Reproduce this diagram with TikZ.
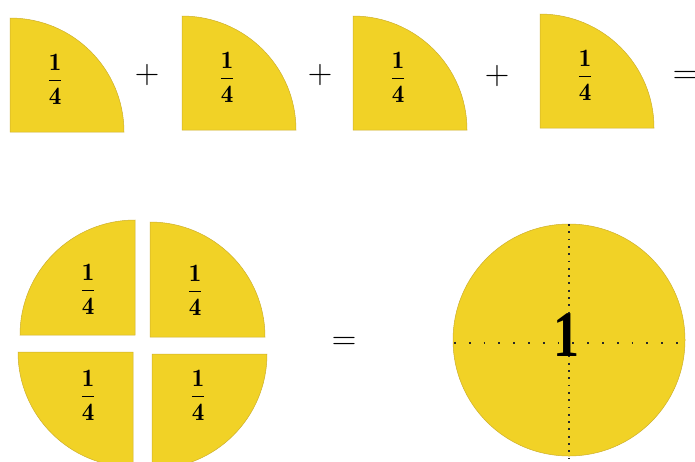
\RequirePackage{fix-cm}
\documentclass[tikz,border=0pt]{standalone}
\usepackage{amsmath}
\usepackage{fontspec}
\newfontfamily\bigonefont{Liberation Serif}
\definecolor{piefill}{RGB}{241,210,38}
\definecolor{pieline}{RGB}{205,175,45}
\definecolor{dotcol}{RGB}{40,40,40}
\tikzset{
  piece/.style={fill=piefill, draw=pieline, line width=0.5pt},
  fraclabel/.style={inner sep=0pt, font=\fontsize{25}{30}\selectfont},
  opsign/.style={inner sep=0pt, font=\fontsize{34}{40}\selectfont},
  hdots/.style={draw=dotcol, line width=1.8pt, dash pattern=on 1.8pt off 13pt},
  vdots/.style={draw=dotcol, line width=1.8pt, dash pattern=on 1.8pt off 5.5pt},
}
\newcommand{\quarterfrac}{$\dfrac{\mathbf{1}}{\mathbf{4}}$}
\begin{document}
\begin{tikzpicture}[x=1pt,y=-1pt]
\useasboundingbox (0,0) rectangle (695,461);
\clip (0,0) rectangle (695,461);
% top row quarter circles
\path[piece] (10,132) -- (10,18) arc[start angle=270,end angle=360,radius=114] -- cycle;
\path[piece] (182,130) -- (182,16) arc[start angle=270,end angle=360,radius=114] -- cycle;
\path[piece] (353,130) -- (353,16) arc[start angle=270,end angle=360,radius=114] -- cycle;
\path[piece] (540,128) -- (540,14) arc[start angle=270,end angle=360,radius=114] -- cycle;
\node[fraclabel] (f1) at (55,79) {\quarterfrac};
\node[fraclabel] (f2) at (227,77) {\quarterfrac};
\node[fraclabel] (f3) at (398,77) {\quarterfrac};
\node[fraclabel] (f4) at (585,75) {\quarterfrac};
\node[opsign] (p1) at (147,75) {$\mathbf{+}$};
\node[opsign] (p2) at (320,75) {$\mathbf{+}$};
\node[opsign] (p3) at (497,76) {$\mathbf{+}$};
\node[opsign] (e1) at (685,77) {$=$};
% bottom-left separated quarters
\path[piece] (135,335) -- (20,335) arc[start angle=180,end angle=270,radius=115] -- cycle;
\path[piece] (150,337) -- (150,222) arc[start angle=270,end angle=360,radius=115] -- cycle;
\path[piece] (133,352) -- (133,467) arc[start angle=90,end angle=180,radius=115] -- cycle;
\path[piece] (152,354) -- (267,354) arc[start angle=0,end angle=90,radius=115] -- cycle;
\node[fraclabel] (f5) at (88,289) {\quarterfrac};
\node[fraclabel] (f6) at (195,290) {\quarterfrac};
\node[fraclabel] (f7) at (88,395) {\quarterfrac};
\node[fraclabel] (f8) at (198,395) {\quarterfrac};
\node[opsign] (e2) at (344,343) {$=$};
% whole circle
\path[piece] (569,340) circle[radius=116];
\coordinate (hl) at (454,343);
\coordinate (hr) at (690,343);
\coordinate (vt) at (569,224);
\coordinate (vb) at (569,458);
\draw[hdots] (hl) -- (hr);
\draw[vdots] (vt) -- (vb);
\node[inner sep=0pt, font=\fontsize{65}{70}\bigonefont\bfseries, xscale=0.8] (one) at (566,335) {1};
\end{tikzpicture}
\end{document}
